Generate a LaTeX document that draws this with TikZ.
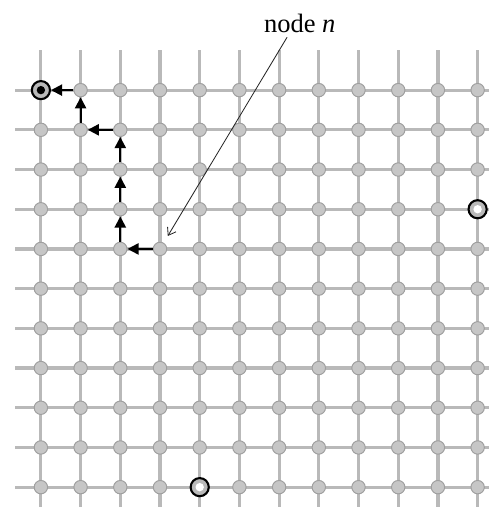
\documentclass[tikz,border=0pt]{standalone}
\usepackage{fontspec}
\setmainfont{Liberation Serif}
\usetikzlibrary{arrows.meta,positioning,calc}

\begin{document}
\begin{tikzpicture}[
    >=Stealth,
    gridline/.style={line width=2.3pt, gray!55},
    vertex/.style={
      circle, fill=gray!45, draw=gray!75, line width=0.7pt,
      minimum size=9.6pt, inner sep=0pt
    },
    goal/.style={
      circle, draw=black, line width=1.5pt, fill=gray!55,
      minimum size=13pt, inner sep=0pt,
      path picture={\fill[#1] (path picture bounding box.center) circle (3pt);}
    },
    hop/.style={-{Triangle[length=8pt,width=8pt]}, line width=1.5pt, black},
    pointer/.style={-{Straight Barb[length=5pt,width=7pt]}, line width=0.6pt, black!85},
    lbl/.style={font=\fontsize{19}{22}\selectfont}
  ]
  \useasboundingbox (-1.03,-10.50) rectangle (11.28,2.27);

  % grid lines
  \foreach \j in {0,...,10}
    \draw[gridline] (-0.65,-\j) -- (11.28,-\j);
  \foreach \i in {0,...,11}
    \draw[gridline] (\i,1.0) -- (\i,-10.5);

  % grid nodes
  \foreach \i in {0,...,11}
    \foreach \j in {0,...,10}
      \node[vertex] (v-\i-\j) at (\i,-\j) {};

  % goals
  \node[goal=black] (dest) at (v-0-0) {};
  \node[goal=white] (goal-a) at (v-11-3) {};
  \node[goal=white] (goal-b) at (v-4-10) {};

  % path from node n
  \draw[hop] (v-3-4) -- (v-2-4);
  \draw[hop] (v-2-4) -- (v-2-3);
  \draw[hop] (v-2-3) -- (v-2-2);
  \draw[hop] (v-2-2) -- (v-2-1);
  \draw[hop] (v-2-1) -- (v-1-1);
  \draw[hop] (v-1-1) -- (v-1-0);
  \draw[hop] (v-1-0) -- (dest);

  % label
  \node[lbl] (lab) at (6.52,1.69) {node \textit{n}};
  \draw[pointer, shorten >=0.2cm] ([xshift=-0.32cm]lab.south) -- (v-3-4);
\end{tikzpicture}
\end{document}
